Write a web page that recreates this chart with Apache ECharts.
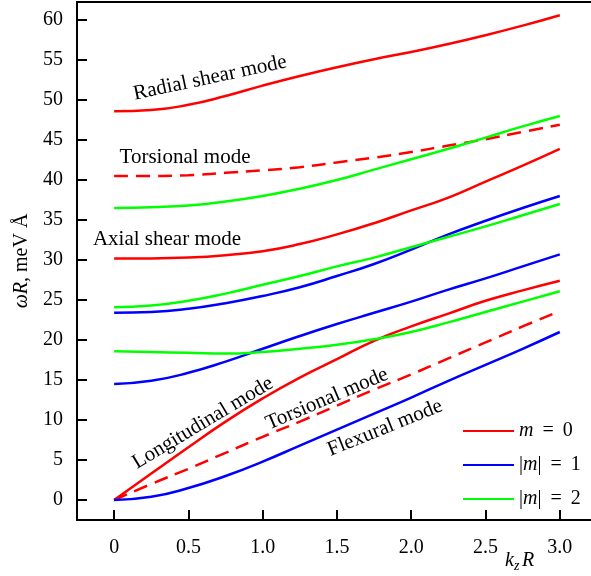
<!DOCTYPE html>
<html>
<head>
<meta charset="utf-8">
<script src="https://cdn.jsdelivr.net/npm/echarts@6/dist/echarts.min.js"></script>
<style>html,body{margin:0;padding:0;background:#fff;}#c{width:591px;height:576px;}</style>
</head>
<body>
<div id="c"></div>
<script>
// ---- data ----
const kz = [0, 0.25, 0.5, 0.75, 1.0, 1.25, 1.5, 1.75, 2.0, 2.25, 2.5, 2.75, 3.0];
// m = 0 (red)
const radialShear   = [48.6, 48.75, 49.4, 50.5, 51.8, 53.0, 54.1, 55.1, 56.0, 57.0, 58.1, 59.3, 60.6];
const torsionalUp   = [40.5, 40.5, 40.6, 40.9, 41.2, 41.6, 42.2, 42.8, 43.5, 44.3, 45.1, 46.0, 46.9];
const axialShear    = [30.2, 30.2, 30.3, 30.6, 31.1, 32.0, 33.2, 34.6, 36.2, 37.8, 39.8, 41.8, 43.9];
const longitudinal  = [0, 3.3, 6.6, 9.8, 12.7, 15.3, 17.6, 19.9, 21.7, 23.3, 24.9, 26.2, 27.4];
const torsionalLow  = [0, 2.0, 3.9, 5.9, 7.9, 9.8, 11.8, 13.8, 15.7, 17.7, 19.7, 21.7, 23.6];
// |m| = 1 (blue)
const blueUpper     = [23.4, 23.5, 23.9, 24.6, 25.5, 26.6, 28.0, 29.5, 31.3, 33.2, 34.9, 36.5, 38.0];
const blueMiddle    = [14.5, 14.9, 15.9, 17.3, 18.9, 20.5, 22.0, 23.4, 24.8, 26.3, 27.7, 29.2, 30.7];
const flexural      = [0, 0.4, 1.5, 3.0, 4.8, 6.8, 8.8, 10.8, 12.8, 14.9, 16.9, 18.9, 21.0];
// |m| = 2 (green)
const greenUpper    = [36.5, 36.6, 36.8, 37.3, 38.0, 38.9, 40.0, 41.3, 42.6, 43.9, 45.3, 46.7, 48.0];
const greenMiddle   = [24.1, 24.3, 24.9, 25.8, 26.9, 28.0, 29.2, 30.3, 31.6, 32.9, 34.2, 35.6, 37.0];
const greenLower    = [18.6, 18.5, 18.4, 18.3, 18.5, 18.9, 19.4, 20.1, 21.0, 22.2, 23.5, 24.8, 26.1];

const xTicks = [0, 0.5, 1.0, 1.5, 2.0, 2.5, 3.0];
const yTicks = [0, 5, 10, 15, 20, 25, 30, 35, 40, 45, 50, 55, 60];
const legendNames = ['m = 0', '|m| = 1', '|m| = 2'];
const colors = {'m = 0': '#ff0000', '|m| = 1': '#0000ff', '|m| = 2': '#00ff00'};

const FONT = '"Liberation Serif", "Times New Roman", serif';

function pairs(ys) { return kz.map((x, i) => [x, ys[i]]); }
function line(name, ys, dashed) {
  return {
    type: 'line', name: name, data: pairs(ys), smooth: true, symbol: 'none',
    xAxisIndex: 0, yAxisIndex: 0,
    lineStyle: {color: colors[name], width: 2.5, type: dashed ? [14, 8] : 'solid'},
    itemStyle: {color: colors[name]},
    emphasis: {disabled: true}, silent: true
  };
}

const series = [
  line(legendNames[0], radialShear),
  line(legendNames[0], axialShear),
  line(legendNames[0], longitudinal),
  line(legendNames[0], torsionalUp, true),
  line(legendNames[0], torsionalLow, true),
  line(legendNames[1], blueUpper),
  line(legendNames[1], blueMiddle),
  line(legendNames[1], flexural),
  line(legendNames[2], greenUpper),
  line(legendNames[2], greenMiddle),
  line(legendNames[2], greenLower)
];

function annot(text, x, y, deg) {
  return {
    type: 'text', x: x, y: y, rotation: deg * Math.PI / 180, silent: true,
    style: {text: text, fill: '#000', fontSize: 21, fontFamily: FONT, align: 'center', verticalAlign: 'middle'}
  };
}

const chart = echarts.init(document.getElementById('c'), null, {renderer: 'canvas'});
chart.setOption({
  animation: false,
  backgroundColor: '#fff',
  grid: {left: 77, right: 0, top: 2, bottom: 56, containLabel: false},
  xAxis: [{
    type: 'value', min: -0.25, max: 3.21, position: 'bottom',
    axisLine: {show: true, onZero: false, lineStyle: {color: '#000', width: 2}},
    axisTick: {show: true, inside: true, length: 10, customValues: xTicks, lineStyle: {color: '#000', width: 2}},
    axisLabel: {show: true, customValues: xTicks, margin: 18, color: '#000', fontSize: 20, fontFamily: FONT,
      formatter: v => (v === 0 ? '0' : v.toFixed(1))},
    splitLine: {show: false}
  }, {
    type: 'value', min: -0.25, max: 3.21, position: 'top',
    axisLine: {show: true, onZero: false, lineStyle: {color: '#000', width: 2}},
    axisTick: {show: false}, axisLabel: {show: false}, splitLine: {show: false}
  }],
  yAxis: {
    type: 'value', min: -2.5, max: 62.25,
    name: '{i|ωR}, meV Å', nameLocation: 'middle', nameGap: 44,
    nameTextStyle: {color: '#000', fontSize: 20, fontFamily: FONT,
      rich: {i: {fontStyle: 'italic', fontSize: 20, fontFamily: FONT, color: '#000'}}},
    axisLine: {show: true, onZero: false, lineStyle: {color: '#000', width: 2}},
    axisTick: {show: true, inside: true, length: 10, customValues: yTicks, lineStyle: {color: '#000', width: 2}},
    axisLabel: {show: true, customValues: yTicks, margin: 14, color: '#000', fontSize: 20, fontFamily: FONT},
    splitLine: {show: false}
  },
  legend: {
    orient: 'vertical', left: 458, top: 416, itemWidth: 51, itemHeight: 14, itemGap: 14,
    icon: 'path://M0,6L51,6L51,8L0,8Z',
    data: legendNames.map(n => ({name: n})),
    formatter: n => n.replace('m', '{i|m}').replace(' = ', '\u2009 = \u2009'),
    textStyle: {color: '#000', fontSize: 20, fontFamily: FONT, padding: [0, 0, 0, 0],
      rich: {i: {fontStyle: 'italic', fontSize: 20, fontFamily: FONT, color: '#000'}}},
    selectedMode: false
  },
  series: series,
  graphic: [
    annot('Radial shear mode', 210, 78, 12),
    annot('Torsional mode', 185, 157, 0),
    annot('Axial shear mode', 167, 239, 0),
    annot('Longitudinal mode', 203, 423, 31),
    annot('Torsional mode', 327, 399, 23),
    annot('Flexural mode', 385, 428, 22),
    {type: 'text', x: 505, y: 561, silent: true,
      style: {text: 'k', fill: '#000', fontSize: 20, fontStyle: 'italic', fontFamily: FONT, align: 'left', verticalAlign: 'middle'}},
    {type: 'text', x: 514, y: 566, silent: true,
      style: {text: 'z', fill: '#000', fontSize: 14, fontStyle: 'italic', fontFamily: FONT, align: 'left', verticalAlign: 'middle'}},
    {type: 'text', x: 522, y: 561, silent: true,
      style: {text: 'R', fill: '#000', fontSize: 20, fontStyle: 'italic', fontFamily: FONT, align: 'left', verticalAlign: 'middle'}}
  ]
});
</script>
</body>
</html>
